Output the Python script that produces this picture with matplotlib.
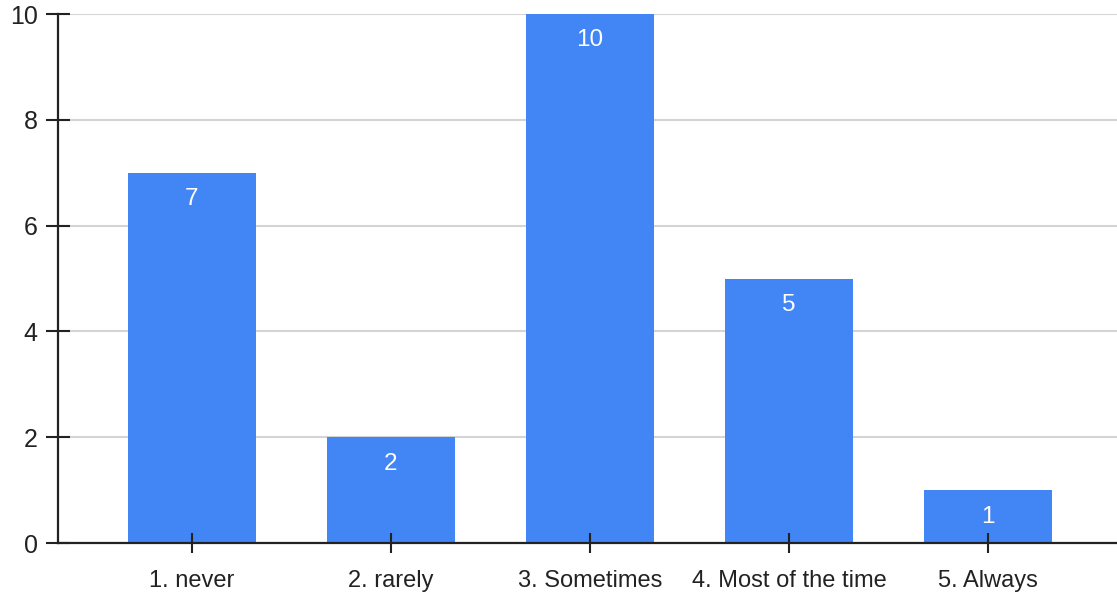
import matplotlib.pyplot as plt

plt.rcParams['font.family'] = ['Liberation Sans', 'DejaVu Sans']

answers = ["1. never", "2. rarely", "3. Sometimes", "4. Most of the time", "5. Always"]
counts = [7, 2, 10, 5, 1]
yticks = [0, 2, 4, 6, 8, 10]

fig = plt.figure(figsize=(11.17, 5.96), dpi=100)
ax = fig.add_axes([0.0519, 0.0889, 0.9481, 0.8876])

x = range(len(answers))
bars = ax.bar(x, counts, width=0.643, color="#4285f4", zorder=2)

for b, v in zip(bars, counts):
    ax.text(b.get_x() + b.get_width() / 2, v - 0.5, str(v),
            ha="center", va="center", color="white", fontsize=17.5, zorder=3)

ax.set_xlim(-0.673, 4.648)
ax.set_ylim(0, 10)
ax.set_yticks(yticks)
ax.set_xticks(list(x))
ax.set_xticklabels(answers)

ax.grid(axis="y", color="#d4d4d4", linewidth=1.5)
# grid lines sit under the bars, x tick marks sit on top of them
ax.yaxis.set_zorder(0.5)
ax.xaxis.set_zorder(5)
for s in ["top", "right"]:
    ax.spines[s].set_visible(False)
for s in ["left", "bottom"]:
    ax.spines[s].set_linewidth(1.6)
    ax.spines[s].set_color("#222222")
    ax.spines[s].set_zorder(4)

ax.tick_params(axis="y", direction="inout", length=17, width=1.5, color="#222222",
               labelsize=18, pad=6, labelcolor="#222222")
ax.tick_params(axis="x", direction="inout", length=15, width=1.5, color="#222222",
               labelsize=17, pad=12, labelcolor="#222222")

fig.savefig("out.png", dpi=100)
